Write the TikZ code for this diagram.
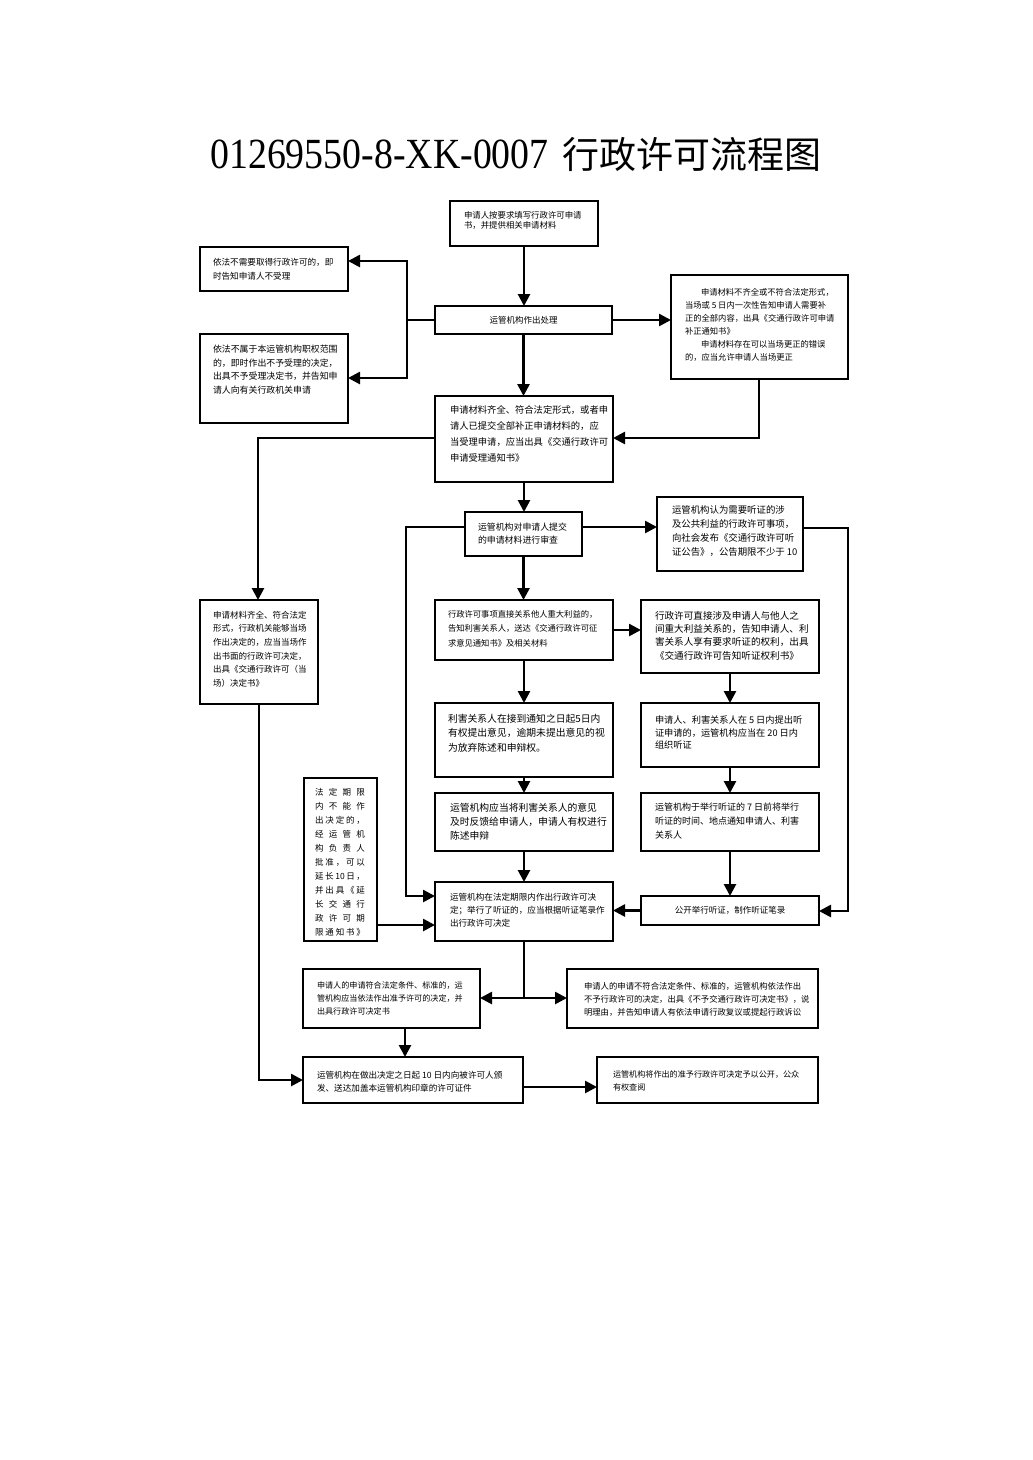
\documentclass[tikz,border=0pt]{standalone}
\usepackage{fontspec}
\setmainfont{Liberation Serif}
\newfontfamily\cjk{Noto Sans CJK SC}
\newfontfamily\titlelat[FakeStretch=0.88]{Liberation Serif}
\usetikzlibrary{arrows.meta}
\newcommand\fs[2]{\fontsize{#1}{#2}\selectfont}
\newcommand\spl[1]{\makebox[50pt][s]{#1}}
\begin{document}
\begin{tikzpicture}[x=1pt,y=-1pt,
  box/.style={draw, line width=1.8pt, rectangle, inner sep=0pt, outer sep=0pt, anchor=north west},
  txt/.style={anchor=north west, inner sep=0pt, outer sep=0pt, align=left},
  ctxt/.style={inner sep=0pt, outer sep=0pt, font=\cjk\fs{8.5}{12}},
  arr/.style={line width=2.6pt, -{Triangle[length=12pt,width=12pt]}},
  ln/.style={line width=2.6pt}]
\useasboundingbox (0,0) rectangle (1033,1460);

% title
\node[anchor=base, inner sep=0pt] (title) at (516,168) {{\titlelat\fontsize{43}{43}\selectfont 01269550-8-XK-0007}\hspace{14pt}{\cjk\fontsize{37}{37}\selectfont 行政许可流程图}};

% boxes
\node[box, minimum width=148pt, minimum height=45pt] (A) at (450,201) {};
\node[box, minimum width=148pt, minimum height=44pt] (B) at (200,247) {};
\node[box, minimum width=177pt, minimum height=28pt] (C) at (435,306) {};
\node[box, minimum width=148pt, minimum height=89pt] (D) at (200,334) {};
\node[box, minimum width=177pt, minimum height=104pt] (E) at (671,275) {};
\node[box, minimum width=178pt, minimum height=86pt] (F) at (435,396) {};
\node[box, minimum width=117pt, minimum height=44pt] (G) at (465,512) {};
\node[box, minimum width=146pt, minimum height=74pt] (H) at (657,497) {};
\node[box, minimum width=118pt, minimum height=104pt] (I) at (200,600) {};
\node[box, minimum width=178pt, minimum height=60pt] (J) at (435,600) {};
\node[box, minimum width=178pt, minimum height=73pt] (K) at (641,600) {};
\node[box, minimum width=178pt, minimum height=74pt] (L) at (435,703) {};
\node[box, minimum width=178pt, minimum height=64pt] (M) at (641,703) {};
\node[box, minimum width=178pt, minimum height=58pt] (N) at (435,793) {};
\node[box, minimum width=178pt, minimum height=58pt] (O) at (641,793) {};
\node[box, minimum width=73pt, minimum height=163pt] (P) at (304,778) {};
\node[box, minimum width=178pt, minimum height=59pt] (Q) at (435,882) {};
\node[box, minimum width=178pt, minimum height=29pt] (R) at (641,896) {};
\node[box, minimum width=177pt, minimum height=59pt] (S) at (303,969) {};
\node[box, minimum width=251pt, minimum height=59pt] (T) at (567,969) {};
\node[box, minimum width=220pt, minimum height=46pt] (U) at (303,1057) {};
\node[box, minimum width=221pt, minimum height=46pt] (V) at (597,1057) {};

% texts
\node[txt, font=\cjk\fs{8.4}{10.5}, xshift=14pt, yshift=-10pt] (At) at (A.north west) {申请人按要求填写行政许可申请\\书，并提供相关申请材料};
\node[txt, font=\cjk\fs{8.6}{14}, xshift=13pt, yshift=-11pt] (Bt) at (B.north west) {依法不需要取得行政许可的，即\\时告知申请人不受理};
\node[ctxt] (Ct) at (C.center) {运管机构作出处理};
\node[txt, font=\cjk\fs{8.9}{13.5}, xshift=13pt, yshift=-11pt] (Dt) at (D.north west) {依法不属于本运管机构职权范围\\的，即时作出不予受理的决定，\\出具不予受理决定书，并告知申\\请人向有关行政机关申请};
\node[txt, font=\cjk\fs{8.3}{13}, xshift=14pt, yshift=-13pt] (Et) at (E.north west) {\hspace*{16pt}申请材料不齐全或不符合法定形式，\\当场或 5 日内一次性告知申请人需要补\\正的全部内容，出具《交通行政许可申请\\补正通知书》\\\hspace*{16pt}申请材料存在可以当场更正的错误\\的，应当允许申请人当场更正};
\node[txt, font=\cjk\fs{9.3}{16}, xshift=15pt, yshift=-10pt] (Ft) at (F.north west) {申请材料齐全、符合法定形式，或者申\\请人已提交全部补正申请材料的，应\\当受理申请，应当出具《交通行政许可\\申请受理通知书》};
\node[txt, font=\cjk\fs{8.9}{13}, xshift=13pt, yshift=-11pt] (Gt) at (G.north west) {运管机构对申请人提交\\的申请材料进行审查};
\node[txt, font=\cjk\fs{9.4}{14}, xshift=15pt, yshift=-9pt] (Ht) at (H.north west) {运管机构认为需要听证的涉\\及公共利益的行政许可事项，\\向社会发布《交通行政许可听\\证公告》，公告期限不少于 10};
\node[txt, font=\cjk\fs{8.5}{13.6}, xshift=13pt, yshift=-11pt] (It) at (I.north west) {申请材料齐全、符合法定\\形式，行政机关能够当场\\作出决定的，应当当场作\\出书面的行政许可决定，\\出具《交通行政许可（当\\场）决定书》};
\node[txt, font=\cjk\fs{8.3}{14.5}, xshift=13pt, yshift=-10pt] (Jt) at (J.north west) {行政许可事项直接关系他人重大利益的，\\告知利害关系人，送达《交通行政许可征\\求意见通知书》及相关材料};
\node[txt, font=\cjk\fs{9.6}{13.3}, xshift=14pt, yshift=-11pt] (Kt) at (K.north west) {行政许可直接涉及申请人与他人之\\间重大利益关系的，告知申请人、利\\害关系人享有要求听证的权利，出具\\《交通行政许可告知听证权利书》};
\node[txt, font=\cjk\fs{9.8}{14.5}, xshift=13pt, yshift=-11pt] (Lt) at (L.north west) {利害关系人在接到通知之日起5日内\\有权提出意见，逾期未提出意见的视\\为放弃陈述和申辩权。};
\node[txt, font=\cjk\fs{9.2}{12.5}, xshift=14pt, yshift=-13pt] (Mt) at (M.north west) {申请人、利害关系人在 5 日内提出听\\证申请的，运管机构应当在 20 日内\\组织听证};
\node[txt, font=\cjk\fs{9.8}{14}, xshift=15pt, yshift=-10pt] (Nt) at (N.north west) {运管机构应当将利害关系人的意见\\及时反馈给申请人，申请人有权进行\\陈述申辩};
\node[txt, font=\cjk\fs{9.0}{14}, xshift=14pt, yshift=-10pt] (Ot) at (O.north west) {运管机构于举行听证的 7 日前将举行\\听证的时间、地点通知申请人、利害\\关系人};
\node[txt, font=\cjk\fs{8.5}{14}, xshift=11pt, yshift=-10pt] (Pt) at (P.north west) {\spl{法\hfill 定\hfill 期\hfill 限}\\\spl{内\hfill 不\hfill 能\hfill 作}\\\spl{出\hfill 决\hfill 定\hfill 的\hfill ，}\\\spl{经\hfill 运\hfill 管\hfill 机}\\\spl{构\hfill 负\hfill 责\hfill 人}\\\spl{批\hfill 准\hfill ，\hfill 可\hfill 以}\\\spl{延\hfill 长\hfill 10\hfill 日\hfill ，}\\\spl{并\hfill 出\hfill 具\hfill 《\hfill 延}\\\spl{长\hfill 交\hfill 通\hfill 行}\\\spl{政\hfill 许\hfill 可\hfill 期}\\\spl{限\hfill 通\hfill 知\hfill 书\hfill 》}};
\node[txt, font=\cjk\fs{8.6}{13}, xshift=15pt, yshift=-11pt] (Qt) at (Q.north west) {运管机构在法定期限内作出行政许可决\\定；举行了听证的，应当根据听证笔录作\\出行政许可决定};
\node[ctxt] (Rt) at (R.center) {公开举行听证，制作听证笔录};
\node[txt, font=\cjk\fs{8.1}{13}, xshift=14pt, yshift=-13pt] (St) at (S.north west) {申请人的申请符合法定条件、标准的，运\\管机构应当依法作出准予许可的决定，并\\出具行政许可决定书};
\node[txt, font=\cjk\fs{8.35}{13}, xshift=17pt, yshift=-13pt] (Tt) at (T.north west) {申请人的申请不符合法定条件、标准的，运管机构依法作出\\不予行政许可的决定，出具《不予交通行政许可决定书》，说\\明理由，并告知申请人有依法申请行政复议或提起行政诉讼};
\node[txt, font=\cjk\fs{8.6}{13}, xshift=14pt, yshift=-14pt] (Ut) at (U.north west) {运管机构在做出决定之日起 10 日内向被许可人颁\\发、送达加盖本运管机构印章的许可证件};
\node[txt, font=\cjk\fs{8.1}{13}, xshift=16pt, yshift=-14pt] (Vt) at (V.north west) {运管机构将作出的准予行政许可决定予以公开，公众\\有权查阅};

% connector points
\coordinate (cl) at (407,320);
\coordinate (bt) at (407,261);
\coordinate (dt) at (407,378);
\coordinate (ef) at (759,438);
\coordinate (fi) at (258,438);
\coordinate (gq) at (406,527);
\coordinate (qin) at (406,896);
\coordinate (hr) at (848,528);
\coordinate (rin) at (848,911);
\coordinate (pq) at (0,925);
\coordinate (qs) at (523,998);
\coordinate (su) at (405,0);
\coordinate (iu) at (258,1080);
\coordinate (uv) at (0,1087);

% connectors
\draw[arr] (A.south) -- (A.south |- C.north);
\draw[arr] (C.west) -| (bt) -- (bt -| B.east);
\draw[arr] (cl) |- (dt -| D.east);
\draw[arr] (C.east) -- (C.east -| E.west);
\draw[arr] (E.south -| ef) -- (ef) -- (ef -| F.east);
\draw[arr] (C.south) -- (C.south |- F.north);
\draw[arr] (fi -| F.west) -- (fi) -- (fi |- I.north);
\draw[arr] (F.south) -- (F.south |- G.north);
\draw[arr] (gq -| G.west) -- (gq) -- (qin) -- (qin -| Q.west);
\draw[arr] (gq -| G.east) -- (gq -| H.west);
\draw[arr] (hr -| H.east) -- (hr) -- (rin) -- (rin -| R.east);
\draw[arr] (G.south) -- (G.south |- J.north);
\draw[arr] (J.east) -- (J.east -| K.west);
\draw[arr] (J.south) -- (L.north);
\draw[arr] (K.south) -- (M.north);
\draw[arr] (L.south) -- (N.north);
\draw[arr] (M.south) -- (O.north);
\draw[arr] (N.south) -- (Q.north);
\draw[arr] (O.south) -- (R.north);
\draw[arr] (R.west) -- (R.west -| Q.east);
\draw[arr] (P.east |- pq) -- (Q.west |- pq);
\draw[ln] (Q.south) -- (Q.south |- qs);
\draw[arr] (Q.south |- qs) -- (S.east |- qs);
\draw[arr] (Q.south |- qs) -- (T.west |- qs);
\draw[arr] (su |- S.south) -- (su |- U.north);
\draw[arr] (I.south) -- (I.south |- iu) -- (iu -| U.west);
\draw[arr] (U.east |- uv) -- (V.west |- uv);
\end{tikzpicture}
\end{document}
